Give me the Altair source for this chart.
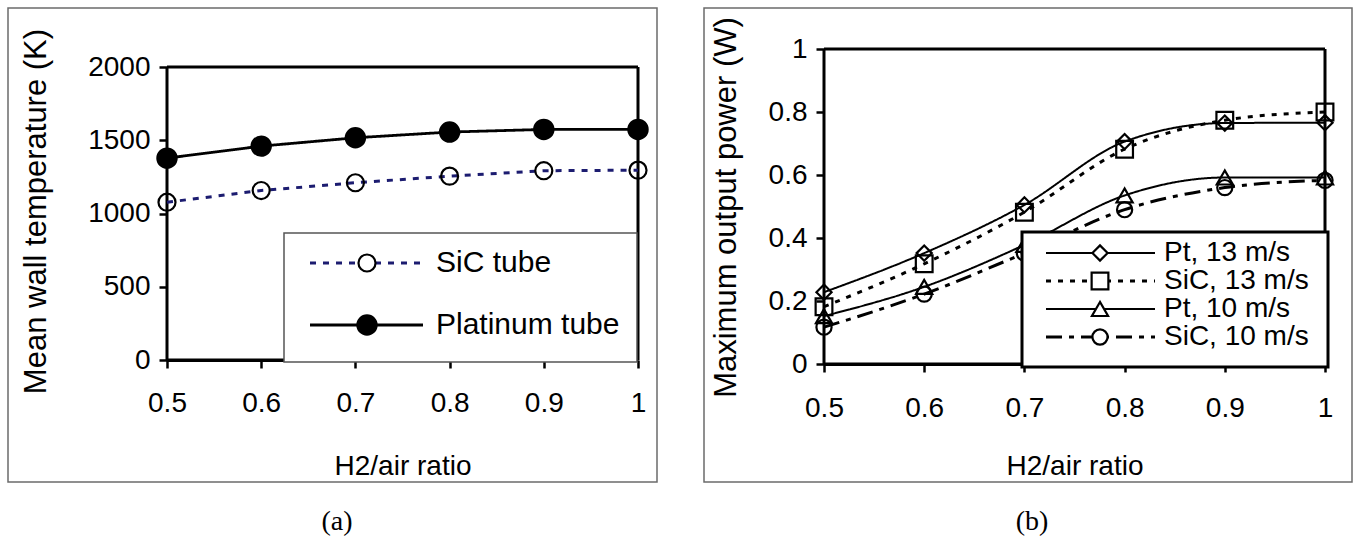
import altair as alt
import pandas as pd

# ---------------- data ----------------
ratio = [0.5, 0.6, 0.7, 0.8, 0.9, 1.0]

# panel (a): mean wall temperature (K)
sic_tube = [1077, 1157, 1210, 1255, 1292, 1296]
pt_tube = [1378, 1460, 1517, 1556, 1574, 1574]
a_series = ["SiC tube", "Platinum tube"]
a_yticks = [0, 500, 1000, 1500, 2000]

# panel (b): maximum output power (W)
pt13 = [0.228, 0.352, 0.505, 0.706, 0.765, 0.766]
sic13 = [0.182, 0.318, 0.482, 0.682, 0.774, 0.800]
pt10 = [0.152, 0.245, 0.378, 0.535, 0.592, 0.592]
sic10 = [0.117, 0.222, 0.352, 0.490, 0.560, 0.583]
b_series = ["Pt, 13 m/s", "SiC, 13 m/s", "Pt, 10 m/s", "SiC, 10 m/s"]
b_yticks = [0, 0.2, 0.4, 0.6, 0.8, 1.0]

captions = ["(a)", "(b)"]
x_title = "H2/air ratio"
a_ytitle = "Mean wall temperature (K)"
b_ytitle = "Maximum output power (W)"

FONT = "Liberation Sans"

df_a = pd.DataFrame({
    "ratio": ratio * 2,
    "value": sic_tube + pt_tube,
    "series": [a_series[0]] * 6 + [a_series[1]] * 6,
})
df_b = pd.DataFrame({
    "ratio": ratio * 4,
    "value": pt13 + sic13 + pt10 + sic10,
    "series": sum([[s] * 6 for s in b_series], []),
})

one = pd.DataFrame({"k": [0]})

axis_common = dict(
    domainColor="black", domainWidth=3, tickColor="black", tickWidth=2.5,
    tickSize=8, labelFont=FONT, labelFontSize=28, labelColor="black",
    labelFlush=False, labelOverlap=False,
    titleFont=FONT, titleFontWeight="normal", titleColor="black", grid=False,
    titleAlign="center", titleBaseline="middle",
)


def make_panel(df, ymax_view, ymax, yticks, ytitle, W, H, ytitle_x, ytitle_y,
               xtitle_y, frame, legend_box, legend_stroke, legend_sw, entries,
               caption, caption_x, interp, xlabpad):
    xscale = alt.Scale(domain=[0.5, 1.0], nice=False, zero=False)
    yscale = alt.Scale(domain=[0, ymax_view], nice=False, zero=True)
    xaxis = alt.Axis(values=ratio, labelExpr="format(datum.value, '~g')",
                     title=x_title, labelPadding=xlabpad, titleX=W / 2,
                     titleY=xtitle_y, titleFontSize=28, **axis_common)
    yaxis = alt.Axis(values=yticks, labelExpr="format(datum.value, '~g')",
                     title=ytitle, domain=False, labelPadding=9,
                     titleX=ytitle_x, titleY=ytitle_y, titleAngle=270,
                     titleFontSize=31, **axis_common)

    def X(f):
        return alt.X(f, type="quantitative", scale=xscale, axis=xaxis, title=x_title)

    def Y(f):
        return alt.Y(f, type="quantitative", scale=yscale, axis=yaxis, title=ytitle)

    layers = []
    # outer panel frame
    fx1, fx2, fy1, fy2 = frame
    layers.append(alt.Chart(one).mark_rect(fillOpacity=0, stroke="#6b6b6b", strokeWidth=1.5).encode(
        x=alt.value(fx1), x2=alt.value(fx2), y=alt.value(fy1), y2=alt.value(fy2)))
    # plot frame (axis lines)
    frame_df = pd.DataFrame({
        "xa": [0.5, 1.0, 0.5, 0.5], "xb": [0.5, 1.0, 1.0, 1.0],
        "ya": [0, 0, ymax, 0], "yb": [ymax, ymax, ymax, 0]})
    layers.append(alt.Chart(frame_df).mark_rule(color="black", strokeWidth=3).encode(
        x=X("xa"), x2=alt.X2("xb"), y=Y("ya"), y2=alt.Y2("yb")))
    # data
    for e in entries:
        sub = df[df.series == e["name"]]
        layers.append(alt.Chart(sub).mark_line(
            color=e["color"], strokeWidth=e["lw"], strokeDash=e["dash"],
            interpolate=interp).encode(x=X("ratio"), y=Y("value")))
        layers.append(alt.Chart(sub).mark_point(
            shape=e["shape"], size=e["size"], filled=e["filled"],
            fill="black" if e["filled"] else "transparent",
            stroke="black", strokeWidth=2.2, opacity=1).encode(x=X("ratio"), y=Y("value")))
    # legend
    lx1, lx2, ly1, ly2 = legend_box
    layers.append(alt.Chart(one).mark_rect(fill="white", stroke=legend_stroke, strokeWidth=legend_sw).encode(
        x=alt.value(lx1), x2=alt.value(lx2), y=alt.value(ly1), y2=alt.value(ly2)))
    for e in entries:
        lg = e["legend"]
        layers.append(alt.Chart(one).mark_rule(
            color=e["color"], strokeWidth=e["lw"], strokeDash=e["dash"]).encode(
            x=alt.value(lg["x1"]), x2=alt.value(lg["x2"]), y=alt.value(lg["y"]), y2=alt.value(lg["y"])))
        layers.append(alt.Chart(one).mark_point(
            shape=e["shape"], size=e["size"], filled=e["filled"],
            fill="black" if e["filled"] else "white",
            stroke="black", strokeWidth=2.2, opacity=1).encode(
            x=alt.value(lg["xm"]), y=alt.value(lg["y"])))
        layers.append(alt.Chart(pd.DataFrame({"label": [e["name"]]})).mark_text(
            font=FONT, fontSize=lg["fs"], align="left", baseline="middle", color="black").encode(
            x=alt.value(lg["xt"]), y=alt.value(lg["y"]), text="label:N"))
    # caption
    layers.append(alt.Chart(pd.DataFrame({"c": [caption]})).mark_text(
        font="Liberation Serif", fontSize=28, baseline="middle", align="center", color="black").encode(
        x=alt.value(caption_x), y=alt.value(473), text="c:N"))
    return alt.layer(*layers).properties(width=W, height=H)


# panel (a) geometry (relative to its plot origin)
Wa, Ha = 471, 311
entries_a = [
    dict(name=a_series[0], color="#1c1c70", lw=3, dash=[6, 7], shape="circle", size=290, filled=False,
         legend=dict(x1=143, x2=253, xm=200, y=214, xt=269, fs=30)),
    dict(name=a_series[1], color="black", lw=2.8, dash=[1, 0], shape="circle", size=370, filled=True,
         legend=dict(x1=143, x2=256, xm=200, y=276, xt=269, fs=30)),
]
panel_a = make_panel(df_a, 2123, 2000, a_yticks, a_ytitle, Wa, Ha, -131, 162, 106,
                     (-159, 490, -41, 433), (117, 470, 184, 313), "#555555", 1.5,
                     entries_a, captions[0], 170, "linear", 21)

Wb, Hb = 501, 315
entries_b = [
    dict(name=b_series[0], color="black", lw=2, dash=[1, 0], shape="diamond", size=230, filled=False,
         legend=dict(x1=222, x2=331, xm=276, y=204, xt=340, fs=28)),
    dict(name=b_series[1], color="black", lw=3, dash=[5, 7], shape="square", size=280, filled=False,
         legend=dict(x1=222, x2=331, xm=276, y=232, xt=340, fs=28)),
    dict(name=b_series[2], color="black", lw=2, dash=[1, 0], shape="triangle-up", size=260, filled=False,
         legend=dict(x1=222, x2=331, xm=276, y=260, xt=340, fs=28)),
    dict(name=b_series[3], color="black", lw=3, dash=[16, 7, 5, 7], shape="circle", size=230, filled=False,
         legend=dict(x1=222, x2=331, xm=276, y=288, xt=340, fs=28)),
]
panel_b = make_panel(df_b, 1.0, 1.0, b_yticks, b_ytitle, Wb, Hb, -98, 158, 102,
                     (-120, 528, -41, 433), (198, 504, 183, 318), "black", 3,
                     entries_b, captions[1], 208, "monotone", 22)

chart = alt.hconcat(panel_a, panel_b, spacing=186, bounds="flush").properties(
    padding={"left": 7, "top": 7, "right": 0, "bottom": 0},
    background="white",
).configure_view(stroke=None)

chart.save("out.html", embed_options={"renderer": "svg", "actions": False})
